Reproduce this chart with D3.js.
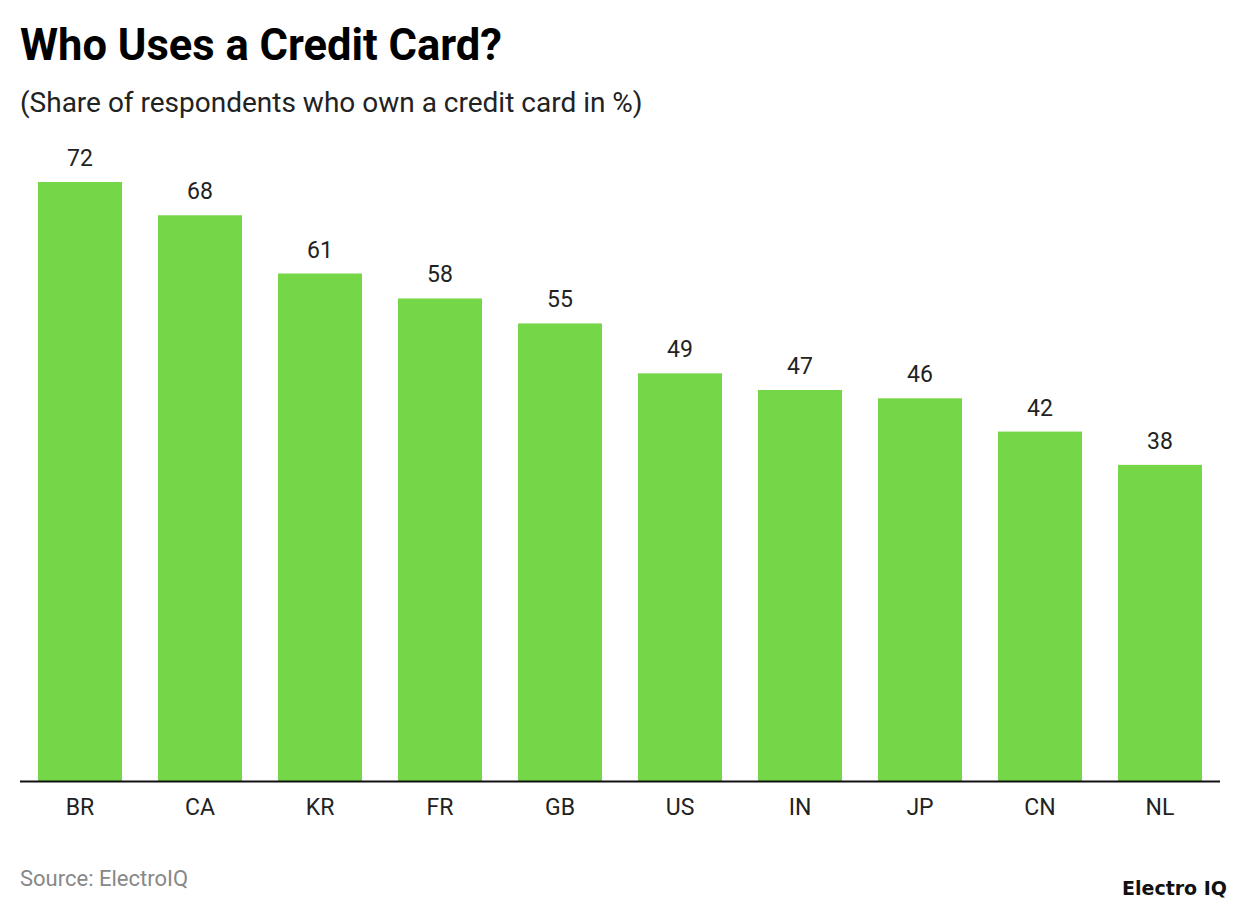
<!DOCTYPE html>
<html><head><meta charset="utf-8">
<script src="https://cdn.jsdelivr.net/npm/d3@7"></script>
<style>body{margin:0;background:#fff;}svg{display:block;font-family:Roboto,sans-serif;}</style>
</head><body>
<svg id="chart" width="1240" height="912"></svg>
<script>
const categories = ["BR","CA","KR","FR","GB","US","IN","JP","CN","NL"];
const values = [72,68,61,58,55,49,47,46,42,38];
const titleText = "Who Uses a Credit Card?";
const subtitleText = "(Share of respondents who own a credit card in %)";
const sourceText = "Source: ElectroIQ";
const brandText = "Electro IQ";

const svg = d3.select("#chart");
const x = d3.scaleBand().domain(categories).range([20,1220]).paddingInner(0.3).paddingOuter(0.15);
const y = d3.scaleLinear().domain([0,72]).range([781,182]);

svg.append("text").attr("x",20).attr("y",60).attr("font-size",43.5).attr("font-weight",700).attr("fill","#000").text(titleText);
svg.append("text").attr("x",20).attr("y",112).attr("font-size",28).attr("fill","#222").text(subtitleText);

svg.selectAll("rect.bar").data(values).join("rect").attr("class","bar")
  .attr("x",(d,i)=>x(categories[i])).attr("width",x.bandwidth())
  .attr("y",d=>y(d)).attr("height",d=>y(0)-y(d)).attr("fill","#75d647");

svg.selectAll("text.val").data(values).join("text").attr("class","val")
  .attr("x",(d,i)=>x(categories[i])+x.bandwidth()/2).attr("y",d=>y(d)-16)
  .attr("text-anchor","middle").attr("font-size",23).attr("fill","#222").text(d=>d);

const axis = d3.axisBottom(x).tickSize(0).tickPadding(0);
const g = svg.append("g").attr("transform","translate(0,781.5)").call(axis);
g.select(".domain").attr("stroke","#111").attr("stroke-width",2).attr("d","M20,0H1220");
g.selectAll(".tick text").attr("font-size",23).attr("font-family","Roboto,sans-serif").attr("fill","#222").attr("dy",null).attr("y",33);

svg.append("text").attr("x",20).attr("y",886).attr("font-size",22).attr("fill","#888").text(sourceText);
svg.append("text").attr("x",1227).attr("y",895).attr("text-anchor","end").attr("font-size",19).attr("font-weight",700).attr("font-family","'DejaVu Sans',sans-serif").attr("fill","#111").text(brandText);
</script>
</body></html>
